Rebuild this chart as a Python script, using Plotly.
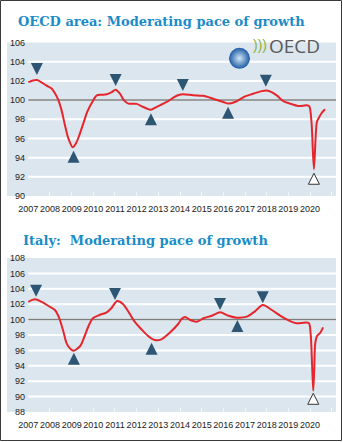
import plotly.graph_objects as go

# ---- OECD area composite leading indicator ----
oecd_dates = ["2007-01-01", "2007-05-22", "2007-11-06", "2008-01-30", "2008-03-25", "2008-05-19",
              "2008-07-16", "2008-09-09", "2008-11-06", "2009-01-19", "2009-03-15", "2009-05-08",
              "2009-07-16", "2009-09-20", "2009-12-05", "2010-03-01", "2010-05-23", "2010-08-15",
              "2010-11-07", "2011-01-12", "2011-03-26", "2011-06-03", "2011-08-15", "2012-01-01",
              "2012-04-23", "2012-08-25", "2012-12-05", "2013-05-23", "2013-11-06", "2014-02-14",
              "2014-08-12", "2015-01-26", "2015-07-16", "2016-01-01", "2016-03-25", "2016-07-16",
              "2017-01-01", "2017-05-19", "2017-10-08", "2018-01-01", "2018-03-25", "2018-06-18",
              "2018-10-08", "2019-01-30", "2019-06-18", "2019-11-06", "2019-12-20", "2020-01-26",
              "2020-03-07", "2020-04-25", "2020-05-25", "2020-07-16", "2020-09-09"]
oecd_values = [101.87, 102.1, 101.5, 101.2, 100.7, 100.04,
               98.9, 97.4, 96.0, 95.07, 95.5, 96.3,
               97.55, 98.76, 99.7, 100.5, 100.55, 100.6,
               100.83, 101.07, 100.66, 99.97, 99.63, 99.6,
               99.28, 99.0, 99.3, 99.8, 100.45, 100.6,
               100.5, 100.45, 100.14, 99.8, 99.63, 99.8,
               100.38, 100.66, 100.93, 101.0, 100.83, 100.49,
               99.9, 99.63, 99.38, 99.45, 99.35, 97.7,
               92.8, 97.7, 98.1, 98.65, 99.04]

oecd_peak_dates = ["2007-05-26", "2011-01-12", "2014-02-17", "2017-12-17"]
oecd_peak_values = [102.61, 101.47, 100.94, 101.4]
oecd_trough_dates = ["2009-02-02", "2012-08-29", "2016-03-21"]
oecd_trough_values = [94.72, 98.62, 99.31]
oecd_new_trough_dates = ["2020-03-07"]
oecd_new_trough_values = [92.37]

# ---- Italy composite leading indicator ----
italy_dates = ["2007-01-01", "2007-04-23", "2007-08-15", "2007-12-01", "2008-03-25", "2008-06-07",
               "2008-08-15", "2008-10-08", "2008-12-17", "2009-01-30", "2009-05-26", "2009-08-08",
               "2009-10-20", "2009-12-25", "2010-04-16", "2010-08-08", "2010-10-31", "2011-02-07",
               "2011-05-15", "2011-08-25", "2011-11-28", "2012-03-21", "2012-07-12", "2012-11-03",
               "2013-02-21", "2013-07-12", "2013-12-01", "2014-01-30", "2014-03-29", "2014-06-21",
               "2014-10-12", "2015-02-02", "2015-06-21", "2015-11-10", "2016-03-29", "2016-08-15",
               "2017-01-30", "2017-06-21", "2017-10-27", "2018-03-29", "2018-09-12", "2019-01-30",
               "2019-05-19", "2019-12-10", "2020-01-10", "2020-02-06", "2020-02-25", "2020-03-14",
               "2020-03-29", "2020-05-01", "2020-06-25", "2020-08-08"]
italy_values = [102.3, 102.63, 102.3, 101.8, 101.25, 100.17,
                98.43, 96.92, 96.14, 95.96, 96.57, 97.87,
                99.3, 100.17, 100.6, 100.9, 101.47, 102.42,
                102.03, 100.9, 99.73, 98.74, 97.87, 97.35,
                97.44, 98.3, 99.43, 100.1, 100.34, 99.95,
                99.73, 100.17, 100.5, 100.95, 100.5, 100.25,
                100.38, 101.1, 101.9, 101.25, 100.38, 99.8,
                99.52, 99.55, 98.3, 93.9, 90.77, 93.9,
                96.9, 97.9, 98.33, 99.0]

italy_peak_dates = ["2007-05-12", "2011-01-01", "2015-11-06", "2017-10-27"]
italy_peak_values = [102.97, 102.55, 101.25, 102.12]
italy_trough_dates = ["2009-02-07", "2012-09-09", "2016-08-25"]
italy_trough_values = [95.7, 97.0, 99.95]
italy_new_trough_dates = ["2020-02-25"]
italy_new_trough_values = [90.43]

# ---- axes ----
year_ticks = [f"{y}-01-01" for y in range(2007, 2022)]
year_labels = [str(y) for y in range(2007, 2021)] + [""]
oecd_yticks = list(range(90, 107, 2))
italy_yticks = list(range(88, 109, 2))
x_range = ["2006-12-27", "2021-03-14"]

titles = ["OECD area: Moderating pace of growth", "Italy:  Moderating pace of growth"]

RED = "#e5262d"
NAVY = "#2d5675"
BG = "#dbe6ee"
TITLE_BLUE = "#1a8cc8"
TICK_FONT = dict(family="Liberation Sans, Arial", size=9, color="#222222")

W, H, ML, MR = 343, 442, 28, 7
pw = W - ML - MR
BG_LEFT = 7  # shaded panel begins left of the value labels

fig = go.Figure()


def add_panel(xa, ya, dates, values, pk_d, pk_v, tr_d, tr_v, nt_d, nt_v):
    fig.add_trace(go.Scatter(x=dates, y=values, xaxis=xa, yaxis=ya, mode="lines",
                             line=dict(color=RED, width=2, shape="spline", smoothing=0.8),
                             hoverinfo="skip", showlegend=False))
    fig.add_trace(go.Scatter(x=pk_d, y=pk_v, xaxis=xa, yaxis=ya, mode="markers",
                             marker=dict(symbol="arrow-down", size=12, color=NAVY, line=dict(width=0)),
                             showlegend=False))
    fig.add_trace(go.Scatter(x=tr_d, y=tr_v, xaxis=xa, yaxis=ya, mode="markers",
                             marker=dict(symbol="arrow-up", size=12, color=NAVY, line=dict(width=0)),
                             showlegend=False))
    fig.add_trace(go.Scatter(x=nt_d, y=nt_v, xaxis=xa, yaxis=ya, mode="markers",
                             marker=dict(symbol="arrow-up", size=11, color="white",
                                         line=dict(width=1, color="#333333")),
                             showlegend=False))


add_panel("x", "y", oecd_dates, oecd_values, oecd_peak_dates, oecd_peak_values,
          oecd_trough_dates, oecd_trough_values, oecd_new_trough_dates, oecd_new_trough_values)
add_panel("x2", "y2", italy_dates, italy_values, italy_peak_dates, italy_peak_values,
          italy_trough_dates, italy_trough_values, italy_new_trough_dates, italy_new_trough_values)

top_dom = [1 - 196 / H, 1 - 42.5 / H]
bot_dom = [1 - 412 / H, 1 - 258 / H]

shapes = []
for xref, yref, ticks, dom in (("x", "y", oecd_yticks, top_dom), ("x2", "y2", italy_yticks, bot_dom)):
    # shaded strip behind the value labels
    shapes.append(dict(type="rect", xref="paper", yref="paper",
                       x0=(BG_LEFT - ML) / pw, x1=0, y0=dom[0], y1=dom[1],
                       fillcolor=BG, line=dict(width=0), layer="below"))
    for v in ticks[1:-1]:
        shapes.append(dict(type="line", xref=xref, yref=yref, x0=year_ticks[0], x1=x_range[1],
                           y0=v, y1=v, line=dict(color="white", width=2), layer="below"))
    shapes.append(dict(type="line", xref=xref, yref=yref, x0=year_ticks[0], x1=x_range[1],
                       y0=100, y1=100, line=dict(color="#7d7d7d", width=1.5), layer="below"))

# outer frame
shapes.append(dict(type="rect", xref="paper", yref="paper",
                   x0=(0.5 - ML) / pw, x1=(W - 1.5 - ML) / pw,
                   y0=1.5 / H, y1=(H - 0.5) / H,
                   line=dict(color="#3a3a3a", width=1), fillcolor="rgba(0,0,0,0)", layer="above"))

annotations = [
    dict(text=f"<b>{titles[0]}</b>", xref="paper", yref="paper", x=(16 - ML) / pw, y=(H - 21) / H,
         xanchor="left", yanchor="middle", showarrow=False,
         font=dict(family="DejaVu Serif", size=13, color=TITLE_BLUE)),
    dict(text=f"<b>{titles[1]}</b>", xref="paper", yref="paper", x=(21 - ML) / pw, y=(H - 240) / H,
         xanchor="left", yanchor="middle", showarrow=False,
         font=dict(family="DejaVu Serif", size=13, color=TITLE_BLUE)),
    # OECD logo wordmark
    dict(text=")))", xref="paper", yref="paper", x=(251 - ML) / pw, y=(H - 45.5) / H,
         xanchor="left", yanchor="middle", showarrow=False,
         font=dict(family="Liberation Sans", size=14, color="#8cb23c")),
    dict(text="OECD", xref="paper", yref="paper", x=(267 - ML) / pw, y=(H - 46) / H,
         xanchor="left", yanchor="middle", showarrow=False,
         font=dict(family="Open Sans", size=19, color="#5a5a5a")),
]

# globe of the logo
fig.add_trace(go.Scatter(x=[(239.5 - ML) / pw], y=[(H - 45.5) / H], xaxis="x3", yaxis="y3",
                         mode="markers", hoverinfo="skip", showlegend=False,
                         marker=dict(symbol="circle", size=21, color="#1d5aa3",
                                     gradient=dict(type="radial", color="#cfe8f7"),
                                     line=dict(width=0))))

xcommon = dict(type="date", range=x_range, tickvals=year_ticks, ticktext=year_labels,
               tickangle=0, ticks="inside", ticklen=4, tickcolor="#f5f8fa", tickwidth=1,
               ticklabelstandoff=6,
               showgrid=False, zeroline=False, showline=False, tickfont=TICK_FONT,
               automargin=False, fixedrange=True)
ycommon = dict(ticks="", showgrid=False, zeroline=False, showline=False, ticklabelstandoff=2,
               tickfont=TICK_FONT, automargin=False, fixedrange=True)

fig.update_layout(
    width=W, height=H,
    margin=dict(l=ML, r=MR, t=0, b=0),
    paper_bgcolor="white", plot_bgcolor=BG,
    xaxis=dict(anchor="y", **xcommon),
    yaxis=dict(anchor="x", domain=top_dom, range=[90, 106], tickvals=oecd_yticks, **ycommon),
    xaxis2=dict(anchor="y2", **xcommon),
    yaxis2=dict(anchor="x2", domain=bot_dom, range=[88, 108], tickvals=italy_yticks, **ycommon),
    xaxis3=dict(anchor="y3", range=[0, 1], visible=False, overlaying="x", fixedrange=True),
    yaxis3=dict(anchor="x3", range=[0, 1], domain=[0, 1], visible=False, overlaying="y",
                fixedrange=True),
    shapes=shapes, annotations=annotations, showlegend=False,
)

fig.write_html("out.html", config={"displayModeBar": False})
